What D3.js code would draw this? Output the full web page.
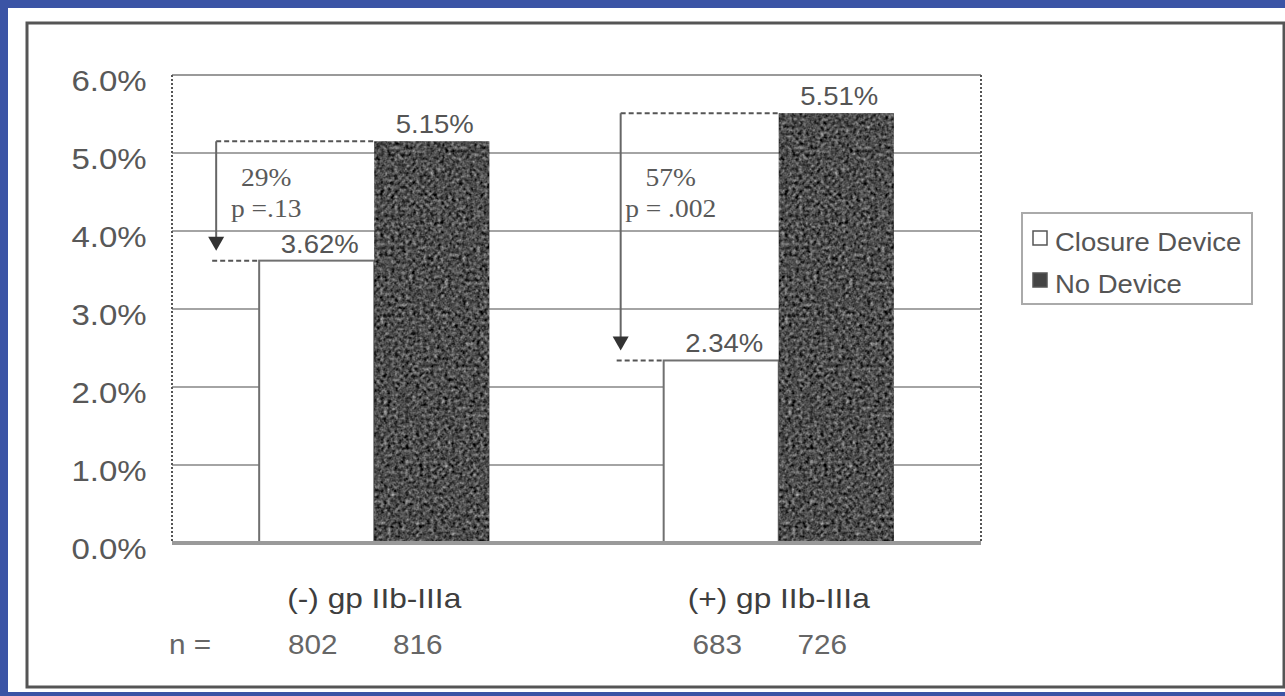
<!DOCTYPE html>
<html>
<head>
<meta charset="utf-8">
<script src="https://cdn.jsdelivr.net/npm/d3@7"></script>
<style>
  html, body { margin: 0; padding: 0; background: #3b54a5; }
  svg { display: block; }
</style>
</head>
<body>
<svg id="chart" width="1285" height="696"></svg>
<script>
// ---- data ----
const categories = ["(-) gp IIb-IIIa", "(+) gp IIb-IIIa"];
const seriesNames = ["Closure Device", "No Device"];
const closureDevice = [3.62, 2.34];
const noDevice = [5.15, 5.51];
const sampleClosure = [802, 683];
const sampleNoDevice = [816, 726];
const reductions = ["29%", "57%"];
const pValues = ["p =.13", "p = .002"];
const yTicks = [0, 1, 2, 3, 4, 5, 6];

// ---- layout ----
const W = 1285, H = 696;
const plot = { left: 172, right: 981, top: 75, bottom: 543 };
const SX = 1.1;               // horizontal stretch applied to all lettering
const sans = "'Liberation Sans', Arial, sans-serif";
const serif = "'Liberation Serif', 'Times New Roman', serif";
const textColor = "#505050";
const darkFill = "#4e4e4e";

const svg = d3.select("#chart");

// grain for the dark bars
const defs = svg.append("defs");
const grain = defs.append("filter").attr("id", "grain")
  .attr("x", 0).attr("y", 0).attr("width", "100%").attr("height", "100%")
  .attr("color-interpolation-filters", "sRGB");
grain.append("feTurbulence").attr("type", "fractalNoise")
  .attr("baseFrequency", 0.28).attr("numOctaves", 2).attr("seed", 7).attr("result", "noise");
grain.append("feColorMatrix").attr("in", "noise").attr("type", "matrix")
  .attr("values", "0.33 0.33 0.33 0 0  0.33 0.33 0.33 0 0  0.33 0.33 0.33 0 0  0 0 0 0 1")
  .attr("result", "gray");
grain.append("feComposite").attr("in", "gray").attr("in2", "SourceGraphic")
  .attr("operator", "arithmetic").attr("k1", 0).attr("k2", 1.5).attr("k3", 1).attr("k4", -0.75)
  .attr("result", "mix");
grain.append("feComposite").attr("in", "mix").attr("in2", "SourceGraphic").attr("operator", "in");

// page background and framed panel
svg.append("rect").attr("width", W).attr("height", H).attr("fill", "#3b54a5");
svg.append("rect").attr("x", 8).attr("y", 8).attr("width", W - 8).attr("height", 684).attr("fill", "#ffffff");
svg.append("rect").attr("x", 27).attr("y", 23).attr("width", 1257).attr("height", 664)
  .attr("fill", "none").attr("stroke", "#555").attr("stroke-width", 3);

// ---- scales ----
const x0 = d3.scaleBand().domain(categories)
  .range([plot.left, plot.right]).paddingInner(0.431).paddingOuter(0.2155);
const x1 = d3.scaleBand().domain(seriesNames).range([0, x0.bandwidth()]);
const y = d3.scaleLinear().domain([0, 6]).range([plot.bottom, plot.top]);

// helper: stretched text placed at (x, y)
function label(parent, x, yy, txt, opts = {}) {
  return parent.append("text")
    .attr("transform", `translate(${x},${yy}) scale(${opts.sx || SX},1)`)
    .attr("text-anchor", opts.anchor || "middle")
    .attr("font-family", opts.font || sans)
    .attr("font-size", opts.size || 25)
    .attr("font-weight", opts.weight || "normal")
    .attr("fill", opts.fill || textColor)
    .text(txt);
}

// gridlines
svg.append("g").selectAll("line").data(yTicks.filter(d => d > 0 && d < 6)).join("line")
  .attr("x1", plot.left).attr("x2", plot.right)
  .attr("y1", d => y(d)).attr("y2", d => y(d))
  .attr("stroke", "#a4a4a4").attr("stroke-width", 2);
// plot area top edge
svg.append("line").attr("x1", plot.left).attr("x2", plot.right)
  .attr("y1", y(6)).attr("y2", y(6)).attr("stroke", "#9a9a9a").attr("stroke-width", 2);

// bars
const rows = categories.map((c, i) => ({
  cat: c,
  vals: [
    { key: seriesNames[0], v: closureDevice[i], n: sampleClosure[i] },
    { key: seriesNames[1], v: noDevice[i], n: sampleNoDevice[i] }
  ]
}));

const groups = svg.append("g").selectAll("g").data(rows).join("g")
  .attr("transform", d => `translate(${x0(d.cat)},0)`);

groups.selectAll("rect.bar").data(d => d.vals).join("rect")
  .attr("class", "bar")
  .attr("x", d => x1(d.key))
  .attr("y", d => y(d.v))
  .attr("width", x1.bandwidth())
  .attr("height", d => y(0) - y(d.v))
  .attr("fill", d => d.key === seriesNames[0] ? "#ffffff" : darkFill)
  .attr("stroke", d => d.key === seriesNames[0] ? "#707070" : "none")
  .attr("stroke-width", 2)
  .attr("filter", d => d.key === seriesNames[0] ? null : "url(#grain)");

// plot area side edges (dotted) and baseline
[plot.left, plot.right].forEach(px => {
  svg.append("line").attr("x1", px).attr("x2", px).attr("y1", y(6)).attr("y2", y(0))
    .attr("stroke", "#555").attr("stroke-width", 2).attr("stroke-dasharray", "2,2");
});
svg.append("line").attr("x1", plot.left).attr("x2", plot.right)
  .attr("y1", y(0)).attr("y2", y(0)).attr("stroke", "#9a9a9a").attr("stroke-width", 4);

// y axis labels
const yAxis = svg.append("g").attr("transform", `translate(${plot.left},0)`)
  .call(d3.axisLeft(y).tickValues(yTicks).tickSize(0).tickPadding(23)
    .tickFormat(d => d3.format(".1f")(d) + "%"));
yAxis.select(".domain").remove();
yAxis.selectAll("text")
  .attr("font-family", sans).attr("font-size", 30).attr("fill", "#585858")
  .attr("dy", "0.52em").attr("transform", `scale(${SX},1)`);

// category labels
const xAxis = svg.append("g").attr("transform", `translate(0,${y(0)})`)
  .call(d3.axisBottom(x0).tickSize(0).tickPadding(45));
xAxis.select(".domain").remove();
xAxis.selectAll("text")
  .attr("font-family", sans).attr("font-size", 28).attr("fill", "#3e3e3e")
  .attr("transform", `scale(1.13,1)`);

// value labels
rows.forEach(r => {
  r.vals.forEach(d => {
    const cx = x0(r.cat) + x1(d.key) + x1.bandwidth() / 2 + 3;
    label(svg, cx, y(d.v) - 8, d3.format(".2f")(d.v) + "%", { size: 25, fill: "#555" });
  });
});

// reduction brackets: dashed from No Device height, arrow down to Closure Device height
const ann = svg.append("g");
rows.forEach((r, i) => {
  const left0 = x0(r.cat) + x1(seriesNames[0]);
  const left1 = x0(r.cat) + x1(seriesNames[1]);
  const ax = left0 - 43;
  const yTop = y(noDevice[i]);
  const yBot = y(closureDevice[i]);
  ann.append("line").attr("x1", ax).attr("x2", left1).attr("y1", yTop).attr("y2", yTop)
    .attr("stroke", "#555").attr("stroke-width", 2).attr("stroke-dasharray", "5,3");
  ann.append("line").attr("x1", ax).attr("x2", ax).attr("y1", yTop).attr("y2", yBot - 22)
    .attr("stroke", "#666").attr("stroke-width", 2);
  ann.append("path")
    .attr("d", `M${ax - 8},${yBot - 24}L${ax + 8},${yBot - 24}L${ax},${yBot - 10}Z`)
    .attr("fill", "#333");
  ann.append("line").attr("x1", ax - 4).attr("x2", left0).attr("y1", yBot).attr("y2", yBot)
    .attr("stroke", "#555").attr("stroke-width", 2).attr("stroke-dasharray", "5,3");
  label(ann, ax + 50, y(4.5) - 6, reductions[i], { font: serif, size: 25, fill: "#5a5a5a" });
  label(ann, ax + 50, y(4.5) + 25, pValues[i], { font: serif, size: 25, fill: "#5a5a5a" });
});

// sample sizes
const nRowY = 654;
label(svg, plot.left + 18, nRowY, "n =", { size: 27, fill: "#666" });
rows.forEach(r => {
  r.vals.forEach((d, j) => {
    const cx = x0(r.cat) + x1(d.key) + x1.bandwidth() / 2 + (j === 0 ? -4 : -14);
    label(svg, cx, nRowY, d.n, { size: 27, fill: "#666" });
  });
});

// legend
const lg = svg.append("g");
lg.append("rect").attr("x", 1022).attr("y", 213).attr("width", 230).attr("height", 91)
  .attr("fill", "#fff").attr("stroke", "#aaa").attr("stroke-width", 2);
seriesNames.forEach((s, i) => {
  const ly = 239 + i * 42;
  lg.append("rect").attr("x", 1033).attr("y", ly - 8).attr("width", 14).attr("height", 14)
    .attr("fill", i === 0 ? "#fff" : "#444").attr("stroke", "#555").attr("stroke-width", 1.5);
  label(lg, 1055, ly + 12, s, { anchor: "start", size: 25, fill: "#555" });
});
</script>
</body>
</html>
